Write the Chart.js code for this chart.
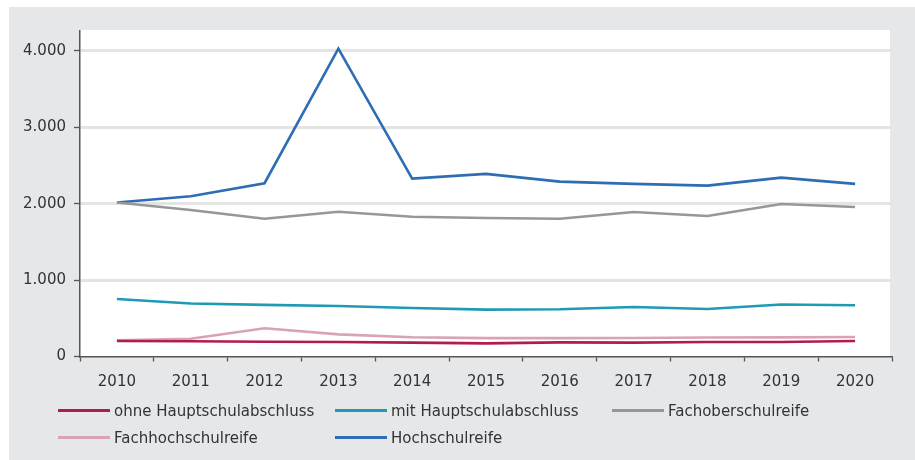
<!DOCTYPE html>
<html lang="de">
<head>
<meta charset="utf-8">
<title>Abschlüsse 2010–2020</title>
<script src="https://cdn.jsdelivr.net/npm/chart.js@4/dist/chart.umd.min.js"></script>
<style>
  html, body { margin: 0; padding: 0; background: #fff; }
  body { width: 915px; height: 460px; position: relative; overflow: hidden; font-family: "DejaVu Sans", sans-serif; }
  #panel { position: absolute; left: 9px; top: 7px; width: 906px; height: 453px; background: #e6e7e9; }
  #chartBox { position: absolute; left: 0; top: 0; width: 906px; height: 395px; }
  #legend { position: absolute; left: 49px; top: 390px; display: grid; grid-template-columns: 277px 277px 277px; }
  #legend .item { display: flex; align-items: center; height: 27px; font-size: 15px; color: #333; white-space: nowrap; }
  #legend .swatch { display: inline-block; width: 52px; height: 3px; margin-right: 4px; }
</style>
</head>
<body>
<div id="panel">
  <div id="chartBox"><canvas id="abschluesse"></canvas></div>
  <div id="legend"></div>
</div>
<script>
const jahre = ['2010', '2011', '2012', '2013', '2014', '2015', '2016', '2017', '2018', '2019', '2020'];

const ohneHauptschulabschluss = [202, 200, 194, 189, 181, 172, 185, 181, 189, 189, 202];
const mitHauptschulabschluss = [753, 693, 675, 661, 635, 614, 618, 648, 622, 680, 671];
const fachoberschulreife = [2015, 1917, 1803, 1894, 1829, 1812, 1803, 1891, 1838, 1996, 1957];
const fachhochschulreife = [211, 233, 369, 290, 251, 241, 241, 243, 248, 250, 255];
const hochschulreife = [2015, 2097, 2268, 4030, 2328, 2390, 2289, 2259, 2236, 2341, 2259];

const yTicks = [0, 1000, 2000, 3000, 4000];

const farben = {
    ohne: '#b01c4b',
    mit: '#1f9ab4',
    fachober: '#979797',
    fachhoch: '#d9a3b5',
    hoch: '#2e6db3'
};

const achsenFarbe = '#555';
const textFarbe = '#333';

// white plot area on the grey panel
const plotHintergrund = {
    id: 'plotHintergrund',
    beforeDraw(chart) {
        const { ctx, chartArea } = chart;
        ctx.save();
        ctx.fillStyle = '#ffffff';
        ctx.fillRect(chartArea.left, chartArea.top - 1, chartArea.right - chartArea.left - 2, chartArea.bottom - chartArea.top + 1);
        ctx.restore();
    }
};

function serie(label, data, color) {
    return {
        label: label,
        data: data,
        borderColor: color,
        backgroundColor: color,
        borderWidth: 2.6,
        pointRadius: 0,
        pointHoverRadius: 0,
        tension: 0,
        fill: false
    };
}

const ctx = document.getElementById('abschluesse').getContext('2d');
const chart = new Chart(ctx, {
    type: 'line',
    data: {
        labels: jahre,
        datasets: [
            serie('ohne Hauptschulabschluss', ohneHauptschulabschluss, farben.ohne),
            serie('mit Hauptschulabschluss', mitHauptschulabschluss, farben.mit),
            serie('Fachoberschulreife', fachoberschulreife, farben.fachober),
            serie('Fachhochschulreife', fachhochschulreife, farben.fachhoch),
            serie('Hochschulreife', hochschulreife, farben.hoch)
        ]
    },
    options: {
        responsive: true,
        maintainAspectRatio: false,
        animation: false,
        layout: { padding: { top: 24, right: 23, bottom: 0, left: 0 } },
        plugins: {
            legend: { display: false },
            tooltip: { enabled: false }
        },
        scales: {
            x: {
                offset: true,
                grid: {
                    offset: true,
                    drawOnChartArea: false,
                    drawTicks: true,
                    tickLength: 5,
                    tickColor: achsenFarbe,
                    tickWidth: 1.3
                },
                border: { color: achsenFarbe, width: 1.5 },
                ticks: {
                    color: textFarbe,
                    padding: 12,
                    font: { family: 'DejaVu Sans', size: 15 },
                    maxRotation: 0
                },
                afterFit(scale) { scale.height = 45.5; }
            },
            y: {
                min: 0,
                max: 4260,
                afterBuildTicks(scale) {
                    scale.ticks = yTicks.map(v => ({ value: v }));
                },
                grid: {
                    color: c => (c.tick && c.tick.value === 0 ? 'rgba(0,0,0,0)' : '#e4e4e4'),
                    lineWidth: 3,
                    drawTicks: true,
                    tickLength: 6,
                    tickColor: achsenFarbe,
                    tickWidth: 1.3
                },
                border: { color: achsenFarbe, width: 1.5 },
                ticks: {
                    color: textFarbe,
                    padding: 8,
                    font: { family: 'DejaVu Sans', size: 15 },
                    callback: v => v.toLocaleString('de-DE')
                },
                afterFit(scale) { scale.width = 71; }
            }
        }
    },
    plugins: [plotHintergrund]
});

// legend in three columns below the chart
const legende = document.getElementById('legend');
chart.data.datasets.forEach(ds => {
    const item = document.createElement('div');
    item.className = 'item';
    const swatch = document.createElement('span');
    swatch.className = 'swatch';
    swatch.style.background = ds.borderColor;
    const text = document.createElement('span');
    text.textContent = ds.label;
    item.appendChild(swatch);
    item.appendChild(text);
    legende.appendChild(item);
});
</script>
</body>
</html>
